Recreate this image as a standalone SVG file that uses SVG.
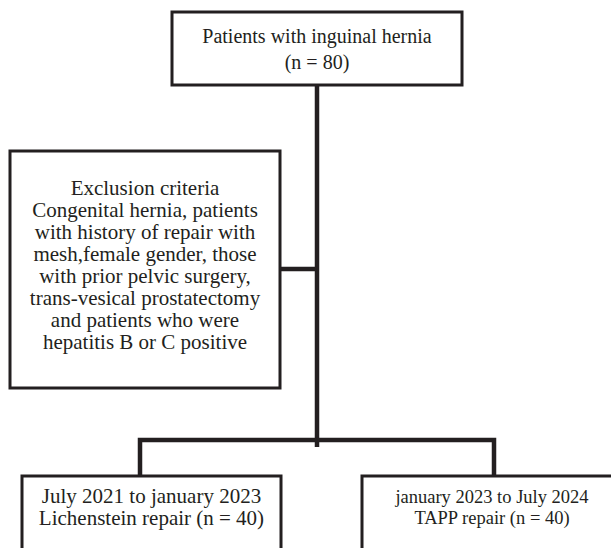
<svg xmlns="http://www.w3.org/2000/svg" width="611" height="548" viewBox="0 0 611 548">
<style>
.box{fill:#fff;stroke:#231f20;stroke-width:3}
.con{fill:none;stroke:#231f20;stroke-width:4.5;stroke-linejoin:miter}
text{font-family:"Liberation Serif","Times New Roman",serif;fill:#231f20;text-anchor:middle}
.t20{font-size:20px}
.t21{font-size:21px}
.t19{font-size:18.5px}
</style>
<rect width="611" height="548" fill="#fff"/>
<g id="connectors">
<path class="con" d="M317 85 V447"/>
<path class="con" d="M280 269 H317"/>
<path class="con" d="M140 476 V440 H494 V476"/>
</g>
<g id="node-patients">
<rect class="box" x="172" y="12" width="290" height="73"/>
<text class="t20" x="317" y="43">Patients with inguinal hernia</text>
<text class="t20" x="317" y="69">(n = 80)</text>
</g>
<g id="node-exclusion">
<rect class="box" x="10" y="151" width="270" height="237"/>
<text class="t21" x="145" y="195">Exclusion criteria</text>
<text class="t21" x="145" y="217">Congenital hernia, patients</text>
<text class="t21" x="145" y="239">with history of repair with</text>
<text class="t21" x="145" y="261">mesh,female gender, those</text>
<text class="t21" x="145" y="283">with prior pelvic surgery,</text>
<text class="t21" x="145" y="305">trans-vesical prostatectomy</text>
<text class="t21" x="145" y="327">and patients who were</text>
<text class="t21" x="145" y="349">hepatitis B or C positive</text>
</g>
<g id="node-lichenstein">
<rect class="box" x="22" y="476" width="259" height="90"/>
<text class="t21" x="151.5" y="503">July 2021 to january 2023</text>
<text class="t21" x="151.5" y="525">Lichenstein repair (n = 40)</text>
</g>
<g id="node-tapp">
<rect class="box" x="362" y="476" width="270" height="90"/>
<text class="t19" x="492" y="503">january 2023 to July 2024</text>
<text class="t19" x="492" y="524">TAPP repair (n = 40)</text>
</g>
</svg>
